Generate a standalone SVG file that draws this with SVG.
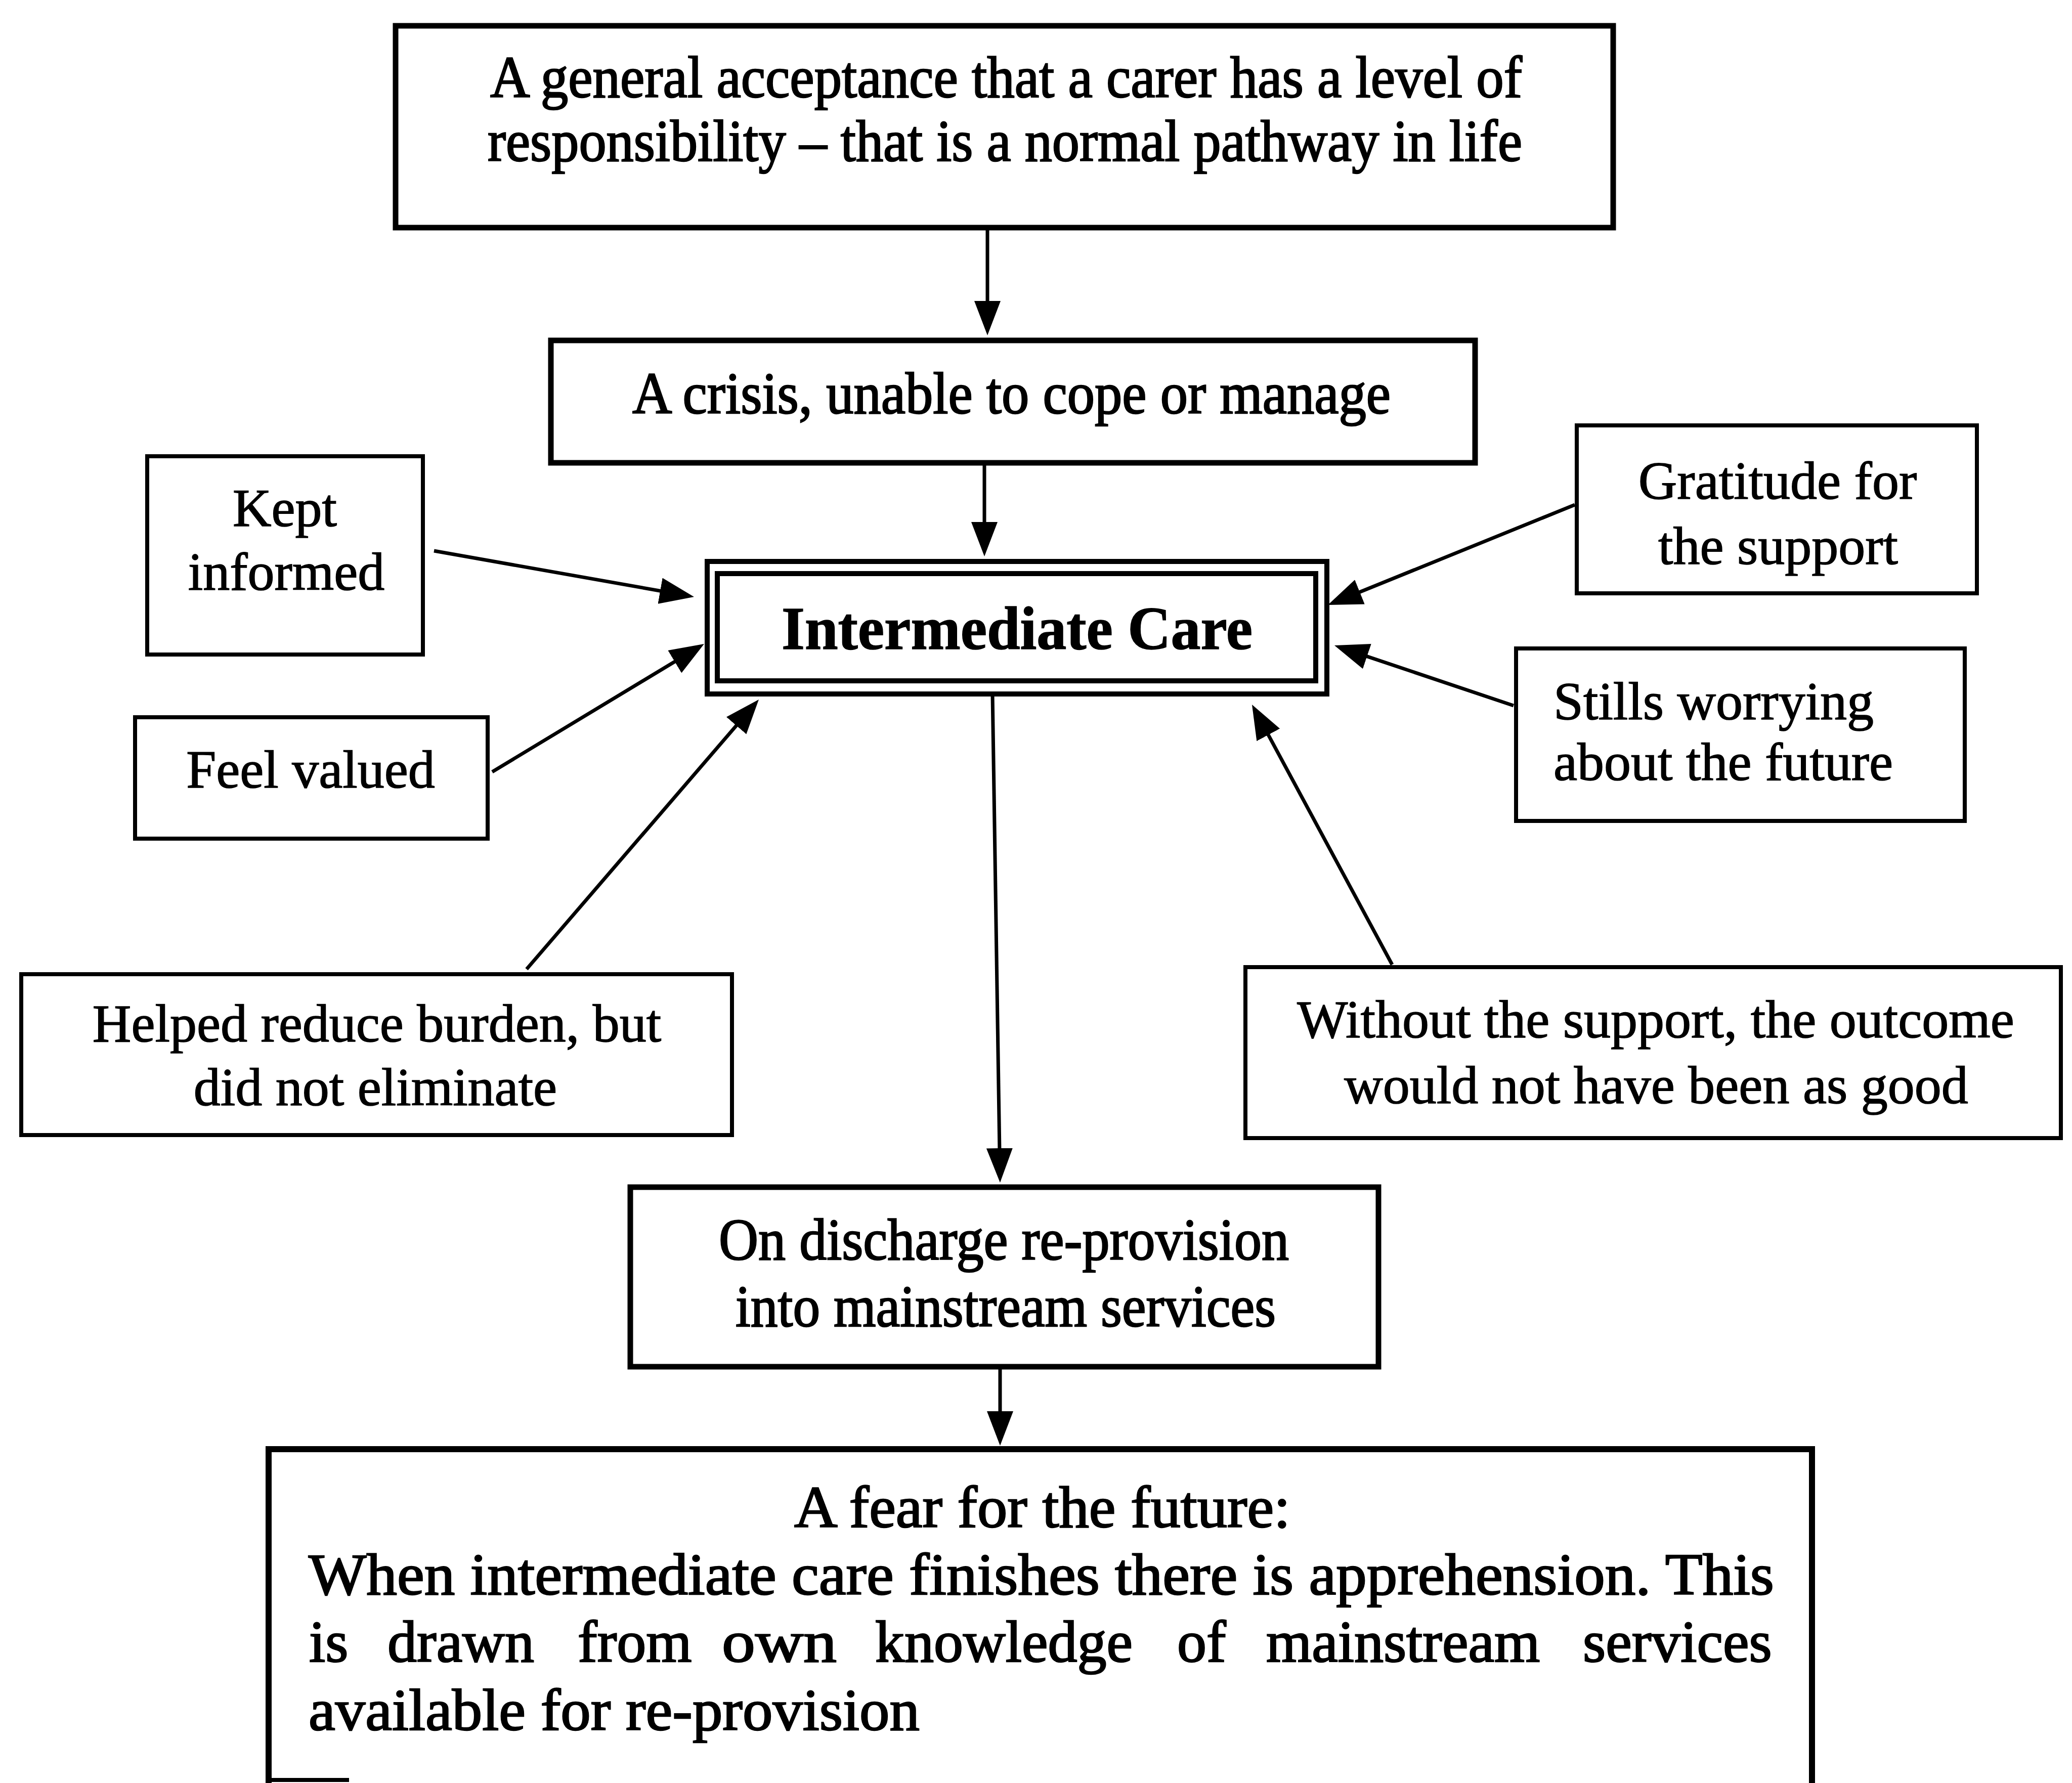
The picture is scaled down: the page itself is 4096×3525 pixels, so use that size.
<svg xmlns="http://www.w3.org/2000/svg" width="4096" height="3525" viewBox="0 0 4096 3525">
  <style>
    .box { fill: #fff; stroke: #000; stroke-width: 11; }
    .side { fill: #fff; stroke: #000; stroke-width: 8; }
    .t { font-family: "Liberation Serif", "Times New Roman", serif; fill: #000; stroke: #000; stroke-width: 2.5; }
    .main { font-size: 116px; }
    .st { font-size: 106px; text-anchor: middle; stroke-width: 1.5; }
    .sl { font-size: 106px; stroke-width: 1.5; }
    .bold { font-size: 120px; font-weight: bold; stroke-width: 1.5; }
    .conn line { stroke: #000; stroke-width: 7; marker-end: url(#ah); }
  </style>
  <defs>
    <marker id="ah" markerUnits="userSpaceOnUse" markerWidth="72" markerHeight="56" refX="38" refY="26" orient="auto">
      <path d="M0,0 L68,26 L0,52 Z" fill="#000"/>
    </marker>
  </defs>
  <rect width="4096" height="3525" fill="#fff"/>

  <!-- connectors -->
  <g id="connectors" class="conn">
    <line x1="1952" y1="450" x2="1952" y2="633"/>
    <line x1="1946" y1="915" x2="1946" y2="1070"/>
    <line x1="858" y1="1089" x2="1342.5" y2="1174.8"/>
    <line x1="973" y1="1526" x2="1366.3" y2="1288.5"/>
    <line x1="1041" y1="1916" x2="1480.4" y2="1405.7"/>
    <line x1="3113" y1="998" x2="2652.8" y2="1184.7"/>
    <line x1="2992" y1="1395" x2="2666.4" y2="1285.6"/>
    <line x1="2752" y1="1907" x2="2489.2" y2="1419.4"/>
    <line x1="1962" y1="1372" x2="1976.5" y2="2308"/>
    <line x1="1977" y1="2702" x2="1977" y2="2828"/>
  </g>

  <!-- acceptance of responsibility -->
  <g id="acceptance">
    <rect class="box" x="782" y="51" width="2407" height="399"/>
    <text class="t main" x="969" y="192" textLength="2040" lengthAdjust="spacingAndGlyphs">A general acceptance that a carer has a level of</text>
    <text class="t main" x="964" y="318" textLength="2045" lengthAdjust="spacingAndGlyphs">responsibility – that is a normal pathway in life</text>
  </g>

  <!-- crisis -->
  <g id="crisis">
    <rect class="box" x="1089" y="673" width="1827" height="242"/>
    <text class="t main" x="1250" y="817" textLength="1499" lengthAdjust="spacingAndGlyphs">A crisis, unable to cope or manage</text>
  </g>

  <!-- central node, double border -->
  <g id="intermediate-care">
    <rect x="1398" y="1110" width="1225" height="262" fill="#fff" stroke="#000" stroke-width="10"/>
    <rect x="1418" y="1134" width="1183" height="212" fill="none" stroke="#000" stroke-width="10"/>
    <text class="t bold" x="1545" y="1283" textLength="931" lengthAdjust="spacingAndGlyphs">Intermediate Care</text>
  </g>

  <g id="kept-informed">
    <rect class="side" x="291" y="902" width="545" height="392"/>
    <text class="t st" x="563" y="1040">Kept</text>
    <text class="t st" x="566" y="1166">informed</text>
  </g>

  <g id="feel-valued">
    <rect class="side" x="267" y="1418" width="697" height="240"/>
    <text class="t st" x="614" y="1557">Feel valued</text>
  </g>

  <g id="helped-reduce-burden">
    <rect class="side" x="42" y="1926" width="1405" height="318"/>
    <text class="t st" x="745" y="2059">Helped reduce burden, but</text>
    <text class="t st" x="742" y="2185">did not eliminate</text>
  </g>

  <g id="gratitude">
    <rect class="side" x="3117" y="841" width="791" height="332"/>
    <text class="t st" x="3514" y="986">Gratitude for</text>
    <text class="t st" x="3515" y="1115">the support</text>
  </g>

  <g id="still-worrying">
    <rect class="side" x="2997" y="1282" width="887" height="341"/>
    <text class="t sl" x="3071" y="1422">Stills worrying</text>
    <text class="t sl" x="3071" y="1542">about the future</text>
  </g>

  <g id="without-support">
    <rect class="side" x="2462" y="1912" width="1612" height="338"/>
    <text class="t st" x="3273" y="2051">Without the support, the outcome</text>
    <text class="t st" x="3274" y="2181">would not have been as good</text>
  </g>

  <g id="discharge">
    <rect class="box" x="1246" y="2347" width="1479" height="355"/>
    <text class="t main" x="1421" y="2490" textLength="1127" lengthAdjust="spacingAndGlyphs">On discharge re-provision</text>
    <text class="t main" x="1454" y="2622" textLength="1068" lengthAdjust="spacingAndGlyphs">into mainstream services</text>
  </g>

  <!-- fear for the future: box runs off the lower edge of the sheet -->
  <g id="fear-for-future">
    <path d="M531,3525 V2865 H3582 V3525" fill="#fff" stroke="#000" stroke-width="12"/>
    <line x1="525" y1="3519" x2="690" y2="3519" stroke="#000" stroke-width="8"/>
    <text class="t main" x="1570" y="3019" textLength="981" lengthAdjust="spacingAndGlyphs">A fear for the future:</text>
    <text class="t main" x="610" y="3152" textLength="2897" lengthAdjust="spacingAndGlyphs">When intermediate care finishes there is apprehension. This</text>
    <text class="t main" y="3285">
      <tspan x="611">is</tspan>
      <tspan x="766">drawn</tspan>
      <tspan x="1142">from</tspan>
      <tspan x="1427" textLength="227" lengthAdjust="spacingAndGlyphs">own</tspan>
      <tspan x="1730">knowledge</tspan>
      <tspan x="2327">of</tspan>
      <tspan x="2503">mainstream</tspan>
      <tspan x="3129">services</tspan>
    </text>
    <text class="t main" x="610" y="3420" textLength="1208" lengthAdjust="spacingAndGlyphs">available for re-provision</text>
  </g>
</svg>
